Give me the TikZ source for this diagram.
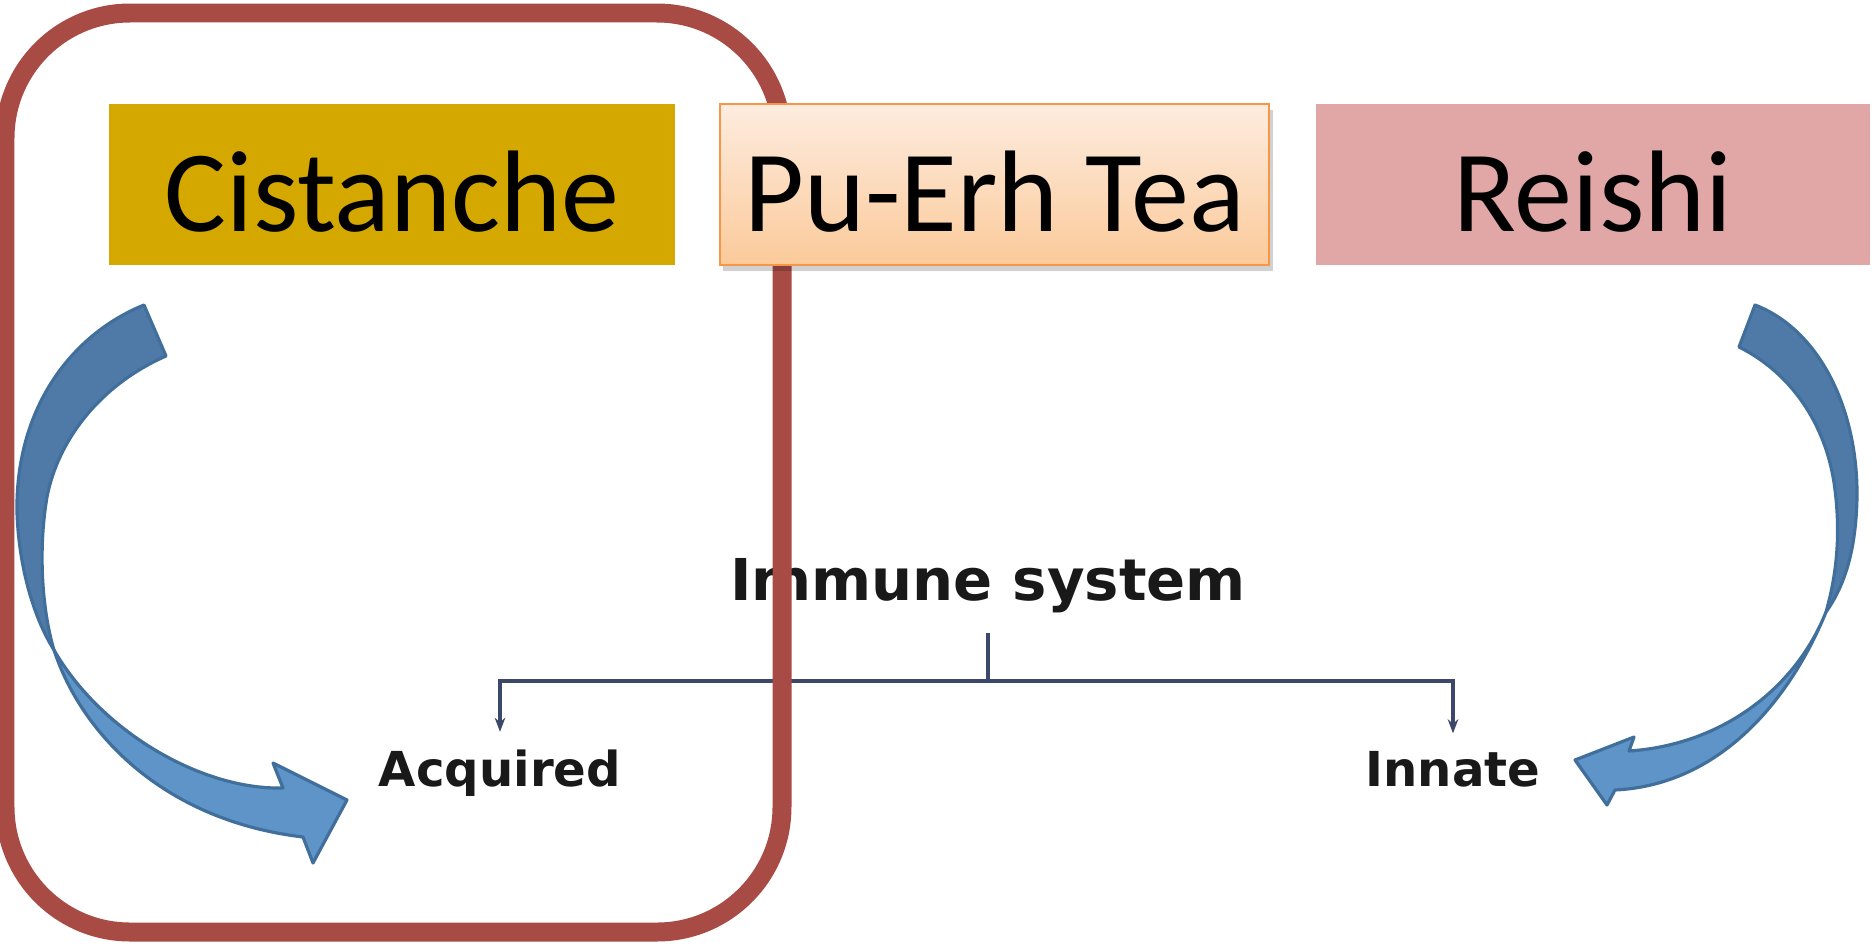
\documentclass[tikz,border=0pt]{standalone}
\usepackage{fontspec}
\setmainfont{Carlito}
\newfontfamily\treefont{DejaVu Sans}
\usetikzlibrary{arrows.meta,shadows}

\definecolor{frameRed}{RGB}{168,75,69}
\definecolor{cistGold}{RGB}{213,168,0}
\definecolor{reishiPink}{RGB}{224,167,166}
\definecolor{teaTop}{RGB}{253,236,223}
\definecolor{teaBottom}{RGB}{251,202,154}
\definecolor{teaEdge}{RGB}{247,150,70}
\definecolor{arrowBack}{RGB}{79,122,167}
\definecolor{arrowFront}{RGB}{94,148,200}
\definecolor{arrowEdge}{RGB}{65,111,155}
\definecolor{treeLine}{RGB}{60,72,105}

\tikzset{
  herb/.style={minimum height=1.61cm, inner sep=0pt, text height=26.5pt, text depth=0pt,
    font=\fontsize{33}{40}\selectfont},
  treelabel/.style={font=\treefont\bfseries\fontsize{13.7}{16}\selectfont, inner sep=4.8pt, text=black!90},
  tree/.style={draw=treeLine, line width=0.9pt},
  blockarrow/.style={draw=arrowEdge, line width=0.9pt, line join=round},
}

\begin{document}
\begin{tikzpicture}[x=0.01cm, y=-0.01cm]
  \useasboundingbox (0,0) rectangle (1872,945);

  % immune system tree
  \node[treelabel, font=\treefont\bfseries\fontsize{16.4}{19}\selectfont, inner sep=0pt, anchor=base] (immune) at (988,600) {Immune system};
  \node[treelabel, anchor=base] (acq) at (500,786) {Acquired};
  \node[treelabel, anchor=base] (inn) at (1453,786) {Innate};
  \coordinate (split) at (immune.south |- 0,681);
  \draw[tree] ([yshift=-5.7pt]immune.south) -- (split);
  \draw[tree, -{Stealth[length=4pt,width=3pt]}] (split) -| (acq);
  \draw[tree, -{Stealth[length=4pt,width=3pt]}] (split) -| (inn);

  % frame round the first herb
  \draw[frameRed, line width=5.4pt, rounded corners=1.25cm] (5,13) rectangle (782,932);

  \node[herb, fill=cistGold, minimum width=5.66cm] (cist) at (392,184.5) {Cistanche};
  \node[herb, draw=teaEdge, line width=0.6pt, top color=teaTop, bottom color=teaBottom, minimum width=5.49cm,
        drop shadow={shadow xshift=1pt, shadow yshift=-1.8pt, fill=black, opacity=.18}] (tea) at (994.5,184.5) {Pu-Erh Tea};
  \node[herb, fill=reishiPink, minimum width=5.54cm] (reishi) at (1593,184.5) {Reishi};

  % left arrow (Cistanche -> Acquired)
  \path[blockarrow, fill=arrowBack] (144,305) .. controls (70,335) and (15,410) .. (17,513)
    .. controls (19,570) and (35,620) .. (54,650)
    .. controls (42,610) and (38,550) .. (47,497)
    .. controls (58,440) and (100,385) .. (166,356) -- cycle;
  \path[blockarrow, fill=arrowFront] (54,650) .. controls (80,730) and (160,820) .. (303,837)
    -- (313,863) -- (347,800) -- (273,763) -- (283,788)
    .. controls (200,790) and (100,730) .. (54,650) -- cycle;

  % right arrow (Reishi -> Innate)
  \path[blockarrow, fill=arrowBack] (1755,305) .. controls (1820,330) and (1858,410) .. (1857,497)
    .. controls (1856,550) and (1845,585) .. (1826,612)
    .. controls (1838,570) and (1840,530) .. (1835,490)
    .. controls (1828,430) and (1795,375) .. (1739,347) -- cycle;
  \path[blockarrow, fill=arrowFront] (1826,612) .. controls (1790,700) and (1720,785) .. (1615,790)
    -- (1607,805) -- (1575,760) -- (1634,737) -- (1629,751)
    .. controls (1720,745) and (1795,690) .. (1826,612) -- cycle;

\end{tikzpicture}
\end{document}
